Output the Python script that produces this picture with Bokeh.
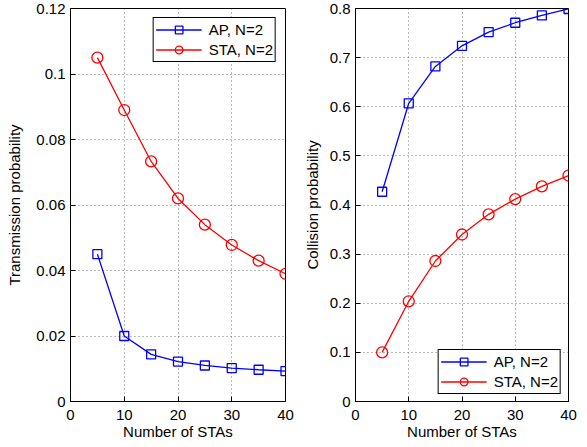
from bokeh.plotting import figure
from bokeh.layouts import row
from bokeh.models import FixedTicker, Legend, LegendItem
from bokeh.embed import file_html
from bokeh.resources import INLINE

# Data
n_stas = [5, 10, 15, 20, 25, 30, 35, 40]
tx_ap = [0.045, 0.020, 0.0144, 0.0122, 0.0110, 0.0102, 0.0097, 0.0093]
tx_sta = [0.105, 0.089, 0.0733, 0.062, 0.054, 0.0478, 0.043, 0.039]
col_ap = [0.427, 0.607, 0.682, 0.724, 0.752, 0.771, 0.786, 0.799]
col_sta = [0.100, 0.204, 0.286, 0.340, 0.381, 0.412, 0.438, 0.460]

x_ticks = [0, 10, 20, 30, 40]
x_tick_labels = ["0", "10", "20", "30", "40"]
tx_ticks = [0, 0.02, 0.04, 0.06, 0.08, 0.1, 0.12]
tx_tick_labels = ["0", "0.02", "0.04", "0.06", "0.08", "0.1", "0.12"]
col_ticks = [0, 0.1, 0.2, 0.3, 0.4, 0.5, 0.6, 0.7, 0.8]
col_tick_labels = ["0", "0.1", "0.2", "0.3", "0.4", "0.5", "0.6", "0.7", "0.8"]

series_labels = ["AP, N=2", "STA, N=2"]
x_label = "Number of STAs"
y_label_left = "Transmission probability"
y_label_right = "Collision probability"

FONT = "Liberation Sans"
FS = "15px"
BLUE = "#0000ff"
RED = "#ff0000"


def style_axis(ax, ticks, labels, label_standoff=5):
    ax.ticker = FixedTicker(ticks=ticks)
    ax.major_label_overrides = {t: l for t, l in zip(ticks, labels)}
    ax.major_tick_in = 5
    ax.major_tick_out = 0
    ax.minor_tick_in = 0
    ax.minor_tick_out = 0
    ax.axis_line_color = "black"
    ax.major_tick_line_color = "black"
    ax.major_label_text_font = FONT
    ax.axis_label_text_font = FONT
    ax.axis_label_text_font_style = "normal"
    ax.axis_label_text_font_size = FS
    ax.major_label_text_color = "black"
    ax.axis_label_text_color = "black"
    ax.major_label_text_font_size = FS
    ax.major_label_standoff = label_standoff


def make_fig(width, border_left, border_right, y_end, yticks, ylabels, ylab,
             ap, sta, legend_loc, legend_margin, ylabel_standoff):
    p = figure(width=width, height=447, output_backend="svg", toolbar_location=None,
               x_range=(0, 40), y_range=(0, y_end),
               min_border_left=border_left, min_border_right=border_right,
               min_border_top=8, min_border_bottom=46)
    p.outline_line_color = "black"
    p.outline_line_width = 1
    p.background_fill_color = "white"
    p.border_fill_color = "white"

    style_axis(p.xaxis[0], x_ticks, x_tick_labels, 8)
    p.xaxis[0].axis_label = x_label
    p.xaxis[0].axis_label_standoff = 0
    style_axis(p.yaxis[0], yticks, ylabels, 5)
    p.yaxis[0].axis_label = ylab
    p.yaxis[0].axis_label_standoff = ylabel_standoff

    for g in p.xgrid + p.ygrid:
        g.grid_line_color = "#555555"
        g.grid_line_alpha = 0.8
        g.grid_line_dash = "1 3"
        g.grid_line_width = 1
    p.xgrid[0].ticker = FixedTicker(ticks=x_ticks)
    p.ygrid[0].ticker = FixedTicker(ticks=yticks)

    l1 = p.line(n_stas, ap, line_color=BLUE, line_width=1.3)
    m1 = p.scatter(n_stas, ap, marker="square", size=9, line_color=BLUE,
                   fill_color=None, line_width=1.3)
    l2 = p.line(n_stas, sta, line_color=RED, line_width=1.3)
    m2 = p.scatter(n_stas, sta, marker="circle", size=11, line_color=RED,
                   fill_color=None, line_width=1.3)

    legend = Legend(items=[LegendItem(label=series_labels[0], renderers=[l1, m1]),
                           LegendItem(label=series_labels[1], renderers=[l2, m2])],
                    location=legend_loc)
    legend.margin = legend_margin
    legend.padding = 2
    legend.spacing = 1
    legend.label_height = 19
    legend.glyph_height = 19
    legend.glyph_width = 46
    legend.label_standoff = 7
    legend.label_text_font = FONT
    legend.label_text_font_size = FS
    legend.label_text_color = "black"
    legend.border_line_color = "black"
    legend.border_line_width = 1
    legend.border_line_alpha = 1
    legend.background_fill_color = "white"
    legend.background_fill_alpha = 1
    p.add_layout(legend, "center")
    return p


p1 = make_fig(300, 70, 15, 0.12, tx_ticks, tx_tick_labels, y_label_left,
              tx_ap, tx_sta, "top_right", 9, 10)
p2 = make_fig(287, 53, 19, 0.8, col_ticks, col_tick_labels, y_label_right,
              col_ap, col_sta, "bottom_right", 7, 6)

layout = row(p1, p2)
open("out.html", "w").write(file_html(layout, INLINE))
